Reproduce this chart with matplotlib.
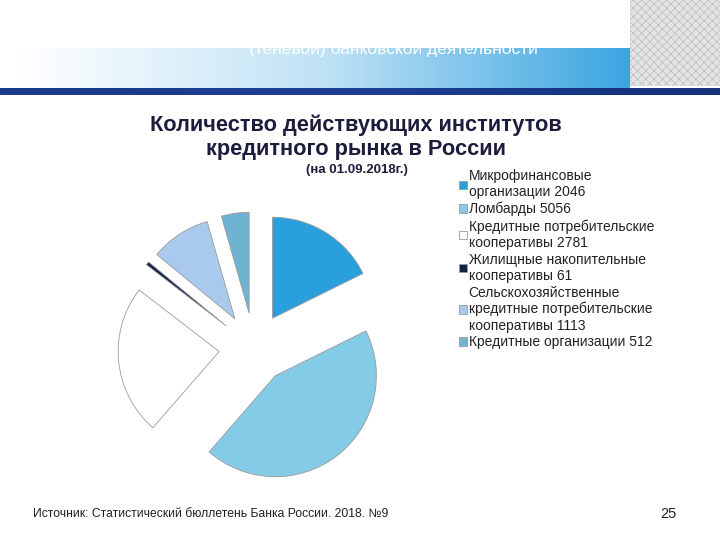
import numpy as np
import matplotlib
matplotlib.use('Agg')
import matplotlib.pyplot as plt
from matplotlib.colors import LinearSegmentedColormap
from matplotlib.patches import Rectangle

plt.rcParams['font.family'] = ['Liberation Sans', 'DejaVu Sans']
plt.rcParams['hatch.linewidth'] = 0.5

# данные диаграммы
labels = ['Микрофинансовые\nорганизации 2046',
          'Ломбарды 5056',
          'Кредитные потребительские\nкооперативы 2781',
          'Жилищные накопительные\nкооперативы 61',
          'Сельскохозяйственные\nкредитные потребительские\nкооперативы 1113',
          'Кредитные организации 512']
values = [2046, 5056, 2781, 61, 1113, 512]
colors = ['#29a0dc', '#84cbe8', '#ffffff', '#0f1e4a', '#a9caec', '#6fb3d2']

title = 'Количество действующих институтов\nкредитного рынка в России'
subtitle = '(на 01.09.2018г.)'
header = '(теневой) банковской деятельности'
source = 'Источник: Статистический бюллетень Банка России. 2018. №9'
page = '25'

fig = plt.figure(figsize=(7.2, 5.4), dpi=100)
ax = fig.add_axes([0, 0, 1, 1])

# шапка слайда: градиент и тёмная полоса
grad = np.linspace(0, 1, 256).reshape(1, -1)
cmap_band = LinearSegmentedColormap.from_list('band', ['#ffffff', '#bfe2f5', '#3ba5e0'])
ax.imshow(grad, cmap=cmap_band, extent=(20, 630, 540 - 88, 540 - 48), aspect='auto', zorder=0)
cmap_bar = LinearSegmentedColormap.from_list('bar', ['#1a3a8a', '#1c3f95', '#16307a'])
ax.imshow(grad, cmap=cmap_bar, extent=(0, 720, 540 - 95, 540 - 88), aspect='auto', zorder=0)
ax.add_patch(Rectangle((630, 540 - 86), 90, 86, facecolor='#e4e4e4', edgecolor='#bcbcbc',
                       linewidth=0, hatch='xxxx', zorder=1))
ax.text(393, 540 - 49, header, color='white', fontsize=12.5, ha='center', va='center', zorder=2)
ax.add_patch(Rectangle((0, 540 - 48), 630, 48, facecolor='white', edgecolor='none', zorder=1.5))

# круговая диаграмма (все сектора выдвинуты)
wedges, _ = ax.pie(values, colors=colors, startangle=90, counterclock=False,
                   explode=[35] * len(values), center=(254, 540 - 348), radius=101,
                   wedgeprops=dict(edgecolor='#9a9a9a', linewidth=0.6))

ax.text(356, 540 - 137, title, fontsize=15.7, fontweight='bold', color='#1c1c3c',
        ha='center', va='center', linespacing=1.2)
ax.text(357, 540 - 170, subtitle, fontsize=9.5, fontweight='bold', color='#1c1c3c',
        ha='center', va='center')

leg = ax.legend(wedges, labels, loc='upper left', bbox_to_anchor=(459 / 720, 1 - 169 / 540),
                frameon=False, fontsize=10, handlelength=0.55, handleheight=0.55,
                handletextpad=0.15, labelspacing=0.2, borderpad=0, borderaxespad=0)
for t in leg.get_texts():
    t.set_color('#222222')
    t.set_linespacing(1.2)

ax.text(33, 540 - 514, source, fontsize=8.7, color='#222222', ha='left', va='center')
ax.text(668, 540 - 514, page, fontsize=10.5, color='#222222', ha='center', va='center')

ax.set_xlim(0, 720)
ax.set_ylim(0, 540)
ax.set_aspect('auto')
ax.axis('off')

fig.savefig('out.png', dpi=100)
